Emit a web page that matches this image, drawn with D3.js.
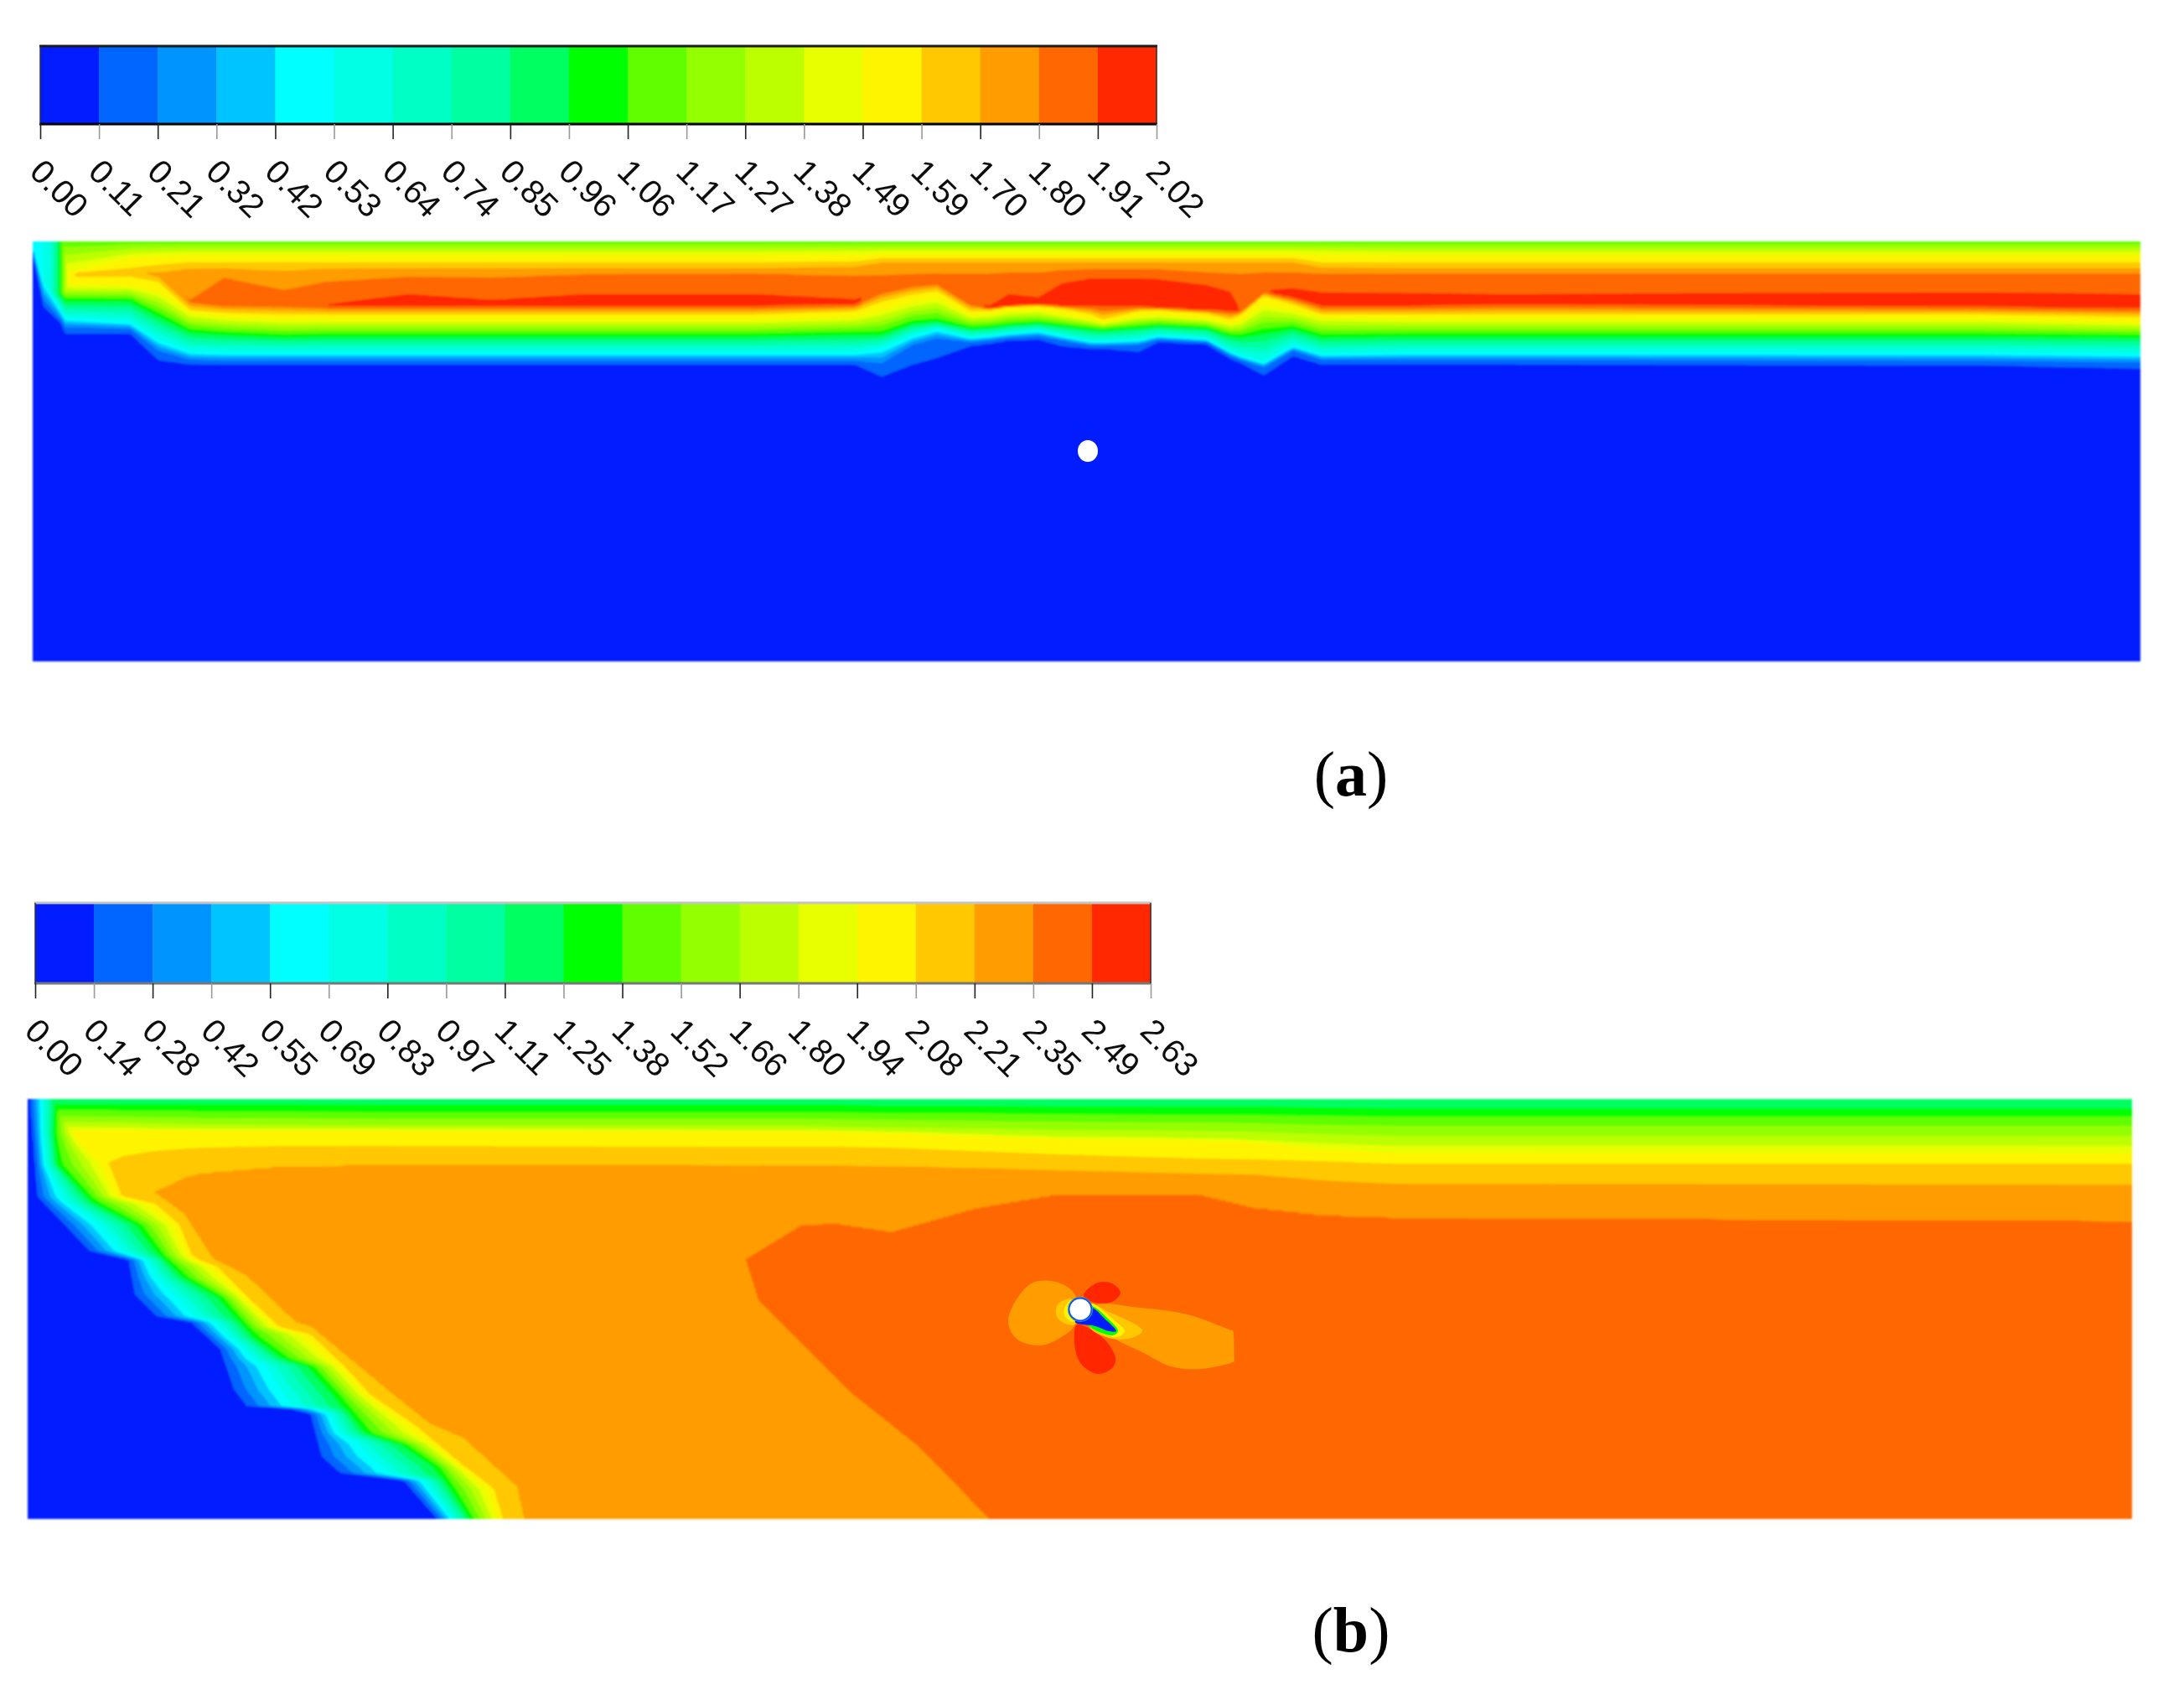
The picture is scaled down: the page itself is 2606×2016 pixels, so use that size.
<!DOCTYPE html>
<html><head><meta charset="utf-8">
<script src="https://cdn.jsdelivr.net/npm/d3@7"></script>
<style>html,body{margin:0;padding:0;background:#fff}svg{display:block}</style></head>
<body><svg id="c" width="2606" height="2016" xmlns="http://www.w3.org/2000/svg"></svg>
<script>
// ---- legends ----
const ticksA = ["0.00","0.11","0.21","0.32","0.42","0.53","0.64","0.74","0.85","0.96","1.06","1.17","1.27","1.38","1.49","1.59","1.70","1.80","1.91","2.02"];
const ticksB = ["0.00","0.14","0.28","0.42","0.55","0.69","0.83","0.97","1.11","1.25","1.38","1.52","1.66","1.80","1.94","2.08","2.21","2.35","2.49","2.63"];
const bandColors = ["#001cff","#0066ff","#0094ff","#00c4ff","#00ffff","#00ffe4","#00ffc4","#00ffa0","#00ff60","#00ff00","#60ff00","#94ff00","#bcff00","#e8ff00","#fff400","#ffc800","#ff9c00","#ff6800","#ff2800"];

// ---- panel (a): column readings. Depths of each velocity level at each station ----
const aX   = [0,13,33,39,116,150,188,228,300,351,449,547,661,861,981,1013,1050,1079,1119,1142,1165,1200,1228,1263,1277,1320,1343,1401,1429,1441,1469,1504,1538,1642,1761,2326,2515];
const aU149= [1,10,15,37,20,18,17,17,17,17,17,17,17,17,16,15,15,15,15,15,15,15,15,15,15,15,15,15,15,15,15,15,16,17,17,17,17];
const aU159= [2,20,30,38,32,28,25,25,25,25,25,25,25,25,24,20,20,20,20,20,20,20,20,20,20,20,20,20,20,20,20,20,25,25,25,25,25];
const aU170= [3,25,35,39,37,37,32,32,35,32,32,32,32,32,30,25,25,25,25,25,25,25,25,25,25,25,25,25,25,25,25,25,31,32,32,32,32];
const aU180= [3.5,27,36,39.5,37,39,70,43,58,48,42,43,39,38,41,40,39,38,38,38,37,37,34,33,33,33,33,37,38,38,37,37,38,38,38,38,38];
const aU191= [3.8,28,37,39.8,36,39,71,74,74,75,63,70,63,63,69,59,51,49,73,77,63,67,50,44,44,44,45,52,60,82,58,56,61,62,63,61,63];
const aPkD = [4,30,38,40,37,40,72,75,75,76,70,73,70,70,72,60,52,50,74,78,70,71,64,60,60,60,62,67,72,83,60,62,69,70,69,69,71];
const aPkV = [1.6,1.6,1.6,1.58,1.65,1.74,1.82,1.87,1.88,1.91,1.97,1.96,1.98,1.98,1.93,1.86,1.86,1.85,1.87,1.93,1.97,1.97,1.99,2.0,2.0,2.0,2.0,1.99,1.98,1.90,1.90,1.96,1.98,1.98,1.98,1.98,1.98];
const aL191= [4.2,31,39,41,38,41,73,76,76,77,77,77,77,77,75,61,53,51,75,80,77,75,77,77,78,78,79,82,83,84,60.5,67,77,77,75,78,80];
const aL159= [4.5,35,42,43,42,48,82,85,87,87,87,87,87,87,83,72,63,59,83,82,78,77,80,87,93,83,82,86,93,88,65,75,87,87,87,87,90];
const aL149= [5,40,52,52,53,60,85,90,93,93,93,93,93,93,90,82,72,67,88,87,83,82,87,93,97,89,88,92,98,95,75,82,90,92,92,92,97];
const aL100= [6,44,62,70,70,88,107,110,113,112,112,112,112,112,110,110,97,95,103,102,99,97,100,104,105,102,100,103,112,113,108,103,113,112,112,112,113];
const aL050= [7,48,82,92,97,118,132,133,133,133,133,133,133,133,133,128,113,105,115,113,110,107,113,120,120,118,113,117,132,137,145,125,135,133,133,133,135];
const aL021= [12,70,92,102,104,130,141,142,142,142,142,142,142,142,142,145,123,115,120,118,115,113,118,124,124,123,117,120,136,141,150,130,141,141,141,142,144];
const aL011= [15,78,97,110,110,142,147,147,147,147,147,147,147,147,147,162,148,140,125,122,118,117,125,128,128,132,120,123,140,145,160,137,147,147,147,148,152];
const aWallX=[0,21,33,39,45,60];
const aWallV=[0.42,0.6,1.0,1.3,1.6,2.1];
const aSurface = 1.1;
const aObstacle = {x:1259, d:250, r:12};

// ---- panel (b): along-channel readings of the near-surface layers ----
const bX    = [0,96,114,150,190,208,302,436,856,923,964,1031,1130,1230,1396,1463,1546,1629,2510];
const bD125 = [6,6,6,6,6,6,6,7,7,7,7,8,8,9,9,9,10,11,11];
const bD138 = [13,13,14,14,14,15,15,16,16,16,16,17,17,18,19,19,20,21,21];
const bD152 = [20,21,21,22,22,23,23,24,24,24,24,25,26,27,28,29,31,32,32];
const bD166 = [27,28,28,29,30,30,31,32,32,32,33,34,35,37,38,39,42,44,44];
const bD180 = [33,34,34,35,35,36,36,36,37,37,38,39,42,45,47,49,53,56,56];
const bD194 = [37,37,37,37,37,37,37,37,38,38,39,40,44,47,49,51,60,64,65];
const bD208 = [100,76,68,62,59,58,56,56,57,57,57,58,62,66,71,72,74,77,77];
const bD221 = [200,140,128,111,92,88,80,78,79,79,79,80,82,85,89,90,97,101,102];
const bD235 = [900,900,900,900,900,900,900,900,191,150,148,158,130,113,113,129,138,141,145];
const bSurface = 1.11;
// front curves: [x, depth] readings of the advancing air/water interface
const frontBlue = [[3,0],[12,116],[74,181],[121,192],[128,233],[154,259],[195,266],[230,298],[246,346],[262,367],[311,369],[338,376],[351,426],[373,446],[449,455],[489,501]];
const frontGreen= [[34,0],[32,40],[36,78],[79,123],[132,150],[159,185],[186,212],[230,236],[271,284],[306,309],[338,319],[369,353],[404,398],[449,412],[489,439],[529,501]];
const frontGold = [[50,0],[58,40],[72,56],[88,70],[96,76],[112,116],[152,125],[181,150],[195,185],[204,192],[226,200],[262,236],[300,272],[338,281],[378,319],[409,353],[462,389],[518,436],[556,465],[567,501]];
const frontOrange=[[85,0],[100,40],[125,76],[150,111],[186,137],[221,191],[262,212],[320,267],[338,272],[436,353],[480,388],[520,405],[583,462],[592,501]];
const frontDeep = [[856,191],[872,241],[980,349],[1063,415],[1147,501]];
// wake around the cylinder: closed outlines tagged with their velocity
const wakeLeft  = [[1250,234],[1230,219],[1200,219],[1180,239],[1170,266],[1180,286],[1207,294],[1230,286],[1250,269]];
const wakeRight = [[1274,247],[1327,249],[1384,257],[1437,276],[1438,276],[1440,312],[1440,313],[1400,322],[1364,319],[1330,302],[1297,286],[1284,276]];
const lobeTop   = [[1260,234],[1277,219],[1294,220],[1304,231],[1294,242],[1270,242]];
const lobeBottom= [[1252,269],[1249,292],[1257,316],[1277,328],[1295,320],[1298,309],[1287,289],[1267,274]];
const goldLeft  = [[1247,239],[1230,244],[1227,257],[1234,266],[1250,269]];
const goldRight = [[1267,246],[1290,254],[1330,276],[1320,284],[1294,286],[1267,272]];
const yellowLeft= [[1245,240],[1237,250],[1238,260],[1248,266]];
const yellowRight=[[1269,244],[1294,262],[1309,277],[1299,284],[1267,269]];
const greenWake = [[1268,247],[1290,263],[1301,277],[1294,282],[1264,268]];
const blueWake  = [[1269,249],[1285,262],[1299,277],[1290,277],[1274,271],[1250,266]];
const wakeValues= [2.3,2.3,2.6,2.6,2.15,2.15,2.0,2.0,1.3,0.05];
const bObstacle = {x:1256, d:251, ring:15, blue:14.2, r:12.5};

// ---- layout ----
const svg = d3.select("#c");
const W=2606,H=2016;
svg.append("rect").attr("width",W).attr("height",H).attr("fill","#fff");
const defs=svg.append("defs");
defs.append("filter").attr("id","soft").attr("filterUnits","userSpaceOnUse").attr("x",0).attr("y",0).attr("width",W).attr("height",H)
  .append("feGaussianBlur").attr("stdDeviation",1.3);
defs.append("filter").attr("id","softText").attr("filterUnits","userSpaceOnUse").attr("x",0).attr("y",0).attr("width",W).attr("height",H)
  .append("feGaussianBlur").attr("stdDeviation",0.7);

function legend(labels, x0, x1, top, bot, tickEnd, topStroke, botStroke){
  const g = svg.append("g");
  const sx = d3.scalePoint().domain(labels).range([x0,x1]);
  bandColors.forEach((c,i)=>{
    const a=sx(labels[i]), b=sx(labels[i+1]);
    g.append("rect").attr("x",a).attr("y",top).attr("width",b-a+0.5).attr("height",bot-top).attr("fill",c);
  });
  g.append("line").attr("x1",x0-1).attr("x2",x1+1).attr("y1",top).attr("y2",top).attr("stroke",topStroke).attr("stroke-width",3);
  g.append("line").attr("x1",x0-1).attr("x2",x1+1).attr("y1",bot).attr("y2",bot).attr("stroke",botStroke).attr("stroke-width",3);
  g.append("line").attr("x1",x0).attr("x2",x0).attr("y1",top).attr("y2",bot).attr("stroke","#333").attr("stroke-width",1.5);
  g.append("line").attr("x1",x1).attr("x2",x1).attr("y1",top).attr("y2",bot).attr("stroke","#333").attr("stroke-width",1.5);
  const ax = d3.axisBottom(sx).tickSize(tickEnd-bot).tickPadding(0);
  const axg = g.append("g").attr("transform",`translate(0,${bot})`).call(ax);
  axg.select(".domain").remove();
  axg.attr("filter","url(#softText)");
  axg.selectAll(".tick line").attr("stroke",(d,i)=>i%2?"#999":"#222").attr("stroke-width",1.6);
  axg.selectAll(".tick text")
    .attr("font-family","'Liberation Sans',Arial,sans-serif").attr("font-size",40).attr("fill","#111")
    .attr("text-anchor","start").attr("dy",0).attr("y",0)
    .attr("transform",`translate(-15,${tickEnd-bot+41}) rotate(45)`);
}
legend(ticksA,48,1380,55,148,166,"#1a1a1a","#000");
legend(ticksB,42,1373,1077,1173,1191,"#c4c4c4","#777");

function contourField(px0,py0,w,h,domX,domD,ticks,fieldFn){
  const step=2, nx=Math.round(w/step), ny=Math.round(h/step);
  const values = fieldFn(nx,ny,domX,domD);
  const gx = d3.scaleLinear().domain([0,nx]).range([px0,px0+w]);
  const gy = d3.scaleLinear().domain([0,ny]).range([py0,py0+h]);
  const path = d3.geoPath(d3.geoTransform({point(x,y){this.stream.point(gx(x),gy(y));}}));
  const th = ticks.slice(1,19).map(Number);
  const cs = d3.contours().size([nx,ny]).smooth(true).thresholds(th)(values);
  const g = svg.append("g").attr("filter","url(#soft)");
  g.append("rect").attr("x",px0).attr("y",py0).attr("width",w).attr("height",h).attr("fill",bandColors[0]);
  g.selectAll("path").data(cs).join("path").attr("d",path).attr("fill",(d,i)=>bandColors[i+1]);
  return g;
}
const curve = (xs,ys)=>d3.scaleLinear().domain(xs).range(ys).clamp(true);

// panel (a)
const aPx=39,aPy=288,aW=2515,aH=501;
const upCurves=[[1.49,aU149],[1.59,aU159],[1.70,aU170],[1.80,aU180],[1.91,aU191]].map(([v,a])=>[v,curve(aX,a)]);
const loCurves=[[1.91,aL191],[1.59,aL159],[1.49,aL149],[1.00,aL100],[0.50,aL050],[0.21,aL021],[0.106,aL011]].map(([v,a])=>[v,curve(aX,a)]);
const pkD=curve(aX,aPkD), pkV=curve(aX,aPkV), wall=curve(aWallX,aWallV);
const sxA=d3.scaleLinear().domain([0,2515]).range([aPx,aPx+aW]);
const syA=d3.scaleLinear().domain([0,501]).range([aPy,aPy+aH]);
contourField(aPx,aPy,aW,aH,[0,2515],[0,501],ticksA,(nx,ny,dx,dd)=>{
  const vals=new Float64Array(nx*ny);
  for(let i=0;i<nx;i++){
    const x=(i+0.5)/nx*dx[1], pv=pkV(x), pd=pkD(x), cap=wall(x);
    const pts=[[0,aSurface]];
    upCurves.forEach(([v,c])=>{ if(v<pv) pts.push([c(x),v]); });
    pts.push([pd,pv]);
    loCurves.forEach(([v,c])=>{ if(v<pv) pts.push([c(x),v]); });
    const last=loCurves[6][1](x);
    pts.push([last+12,0.03],[700,0]);
    const clean=[pts[0]];
    pts.forEach(p=>{ if(p[0]>clean[clean.length-1][0]) clean.push(p); });
    const s=d3.scaleLinear().domain(clean.map(p=>p[0])).range(clean.map(p=>p[1]));
    for(let j=0;j<ny;j++){ vals[j*nx+i]=Math.min(cap,s((j+0.5)/ny*dd[1])); }
  }
  return vals;
});
svg.append("ellipse").attr("cx",sxA(aObstacle.x)).attr("cy",syA(aObstacle.d)).attr("rx",aObstacle.r).attr("ry",aObstacle.r+1).attr("fill","#fff");

// panel (b)
const bPx=33,bPy=1311,bW=2511,bH=501;
const colLevels=[[1.25,bD125],[1.38,bD138],[1.52,bD152],[1.66,bD166],[1.80,bD180],[1.94,bD194],[2.08,bD208],[2.21,bD221],[2.35,bD235]].map(([v,a])=>[v,curve(bX,a)]);
const front=a=>curve(a.map(p=>p[1]),a.map(p=>p[0]));
const fBlue=front(frontBlue),fGreen=front(frontGreen),fGold=front(frontGold),fOrange=front(frontOrange),fDeep=front(frontDeep);
const sxB=d3.scaleLinear().domain([0,2511]).range([bPx,bPx+bW]);
const syB=d3.scaleLinear().domain([0,501]).range([bPy,bPy+bH]);
contourField(bPx,bPy,bW,bH,[0,2511],[0,501],ticksB,(nx,ny,dx,dd)=>{
  const vals=new Float64Array(nx*ny);
  const cols=[];
  for(let i=0;i<nx;i++){
    const x=(i+0.5)/nx*dx[1];
    const pts=[[0,bSurface]];
    colLevels.forEach(([v,c])=>{ const d=c(x); if(d>pts[pts.length-1][0]) pts.push([d,v]); });
    pts.push([1200,2.44]);
    cols.push(d3.scaleLinear().domain(pts.map(p=>p[0])).range(pts.map(p=>p[1])));
  }
  for(let j=0;j<ny;j++){
    const d=(j+0.5)/ny*dd[1];
    const seq=[fBlue(d),fGreen(d),fGold(d),fOrange(d),fDeep(d)];
    const lv=[0.14,1.30,2.08,2.21,2.35];
    const xs=[seq[0]-14],vs=[0.04];
    seq.forEach((q,k)=>{ if(q>xs[xs.length-1]){xs.push(q);vs.push(lv[k]);} });
    xs.push(4000);vs.push(2.44);
    const s=d3.scaleLinear().domain(xs).range(vs);
    for(let i=0;i<nx;i++){
      const x=(i+0.5)/nx*dx[1];
      vals[j*nx+i]=Math.min(s(x),cols[i](d));
    }
  }
  return vals;
});
const bandOf=d3.scaleThreshold().domain(ticksB.slice(1,19).map(Number)).range(bandColors);
const outline=d3.line().x(p=>sxB(p[0])).y(p=>syB(p[1])).curve(d3.curveCatmullRomClosed.alpha(0.5));
const wakeG=svg.append("g").attr("filter","url(#softText)");
[wakeLeft,wakeRight,lobeTop,lobeBottom,goldLeft,goldRight,yellowLeft,yellowRight,greenWake,blueWake].forEach((s,i)=>{
  wakeG.append("path").attr("d",outline(s)).attr("fill",bandOf(wakeValues[i]));
});
wakeG.append("circle").attr("cx",sxB(bObstacle.x)).attr("cy",syB(bObstacle.d)).attr("r",bObstacle.ring).attr("fill","#3aa0a0");
wakeG.append("circle").attr("cx",sxB(bObstacle.x)).attr("cy",syB(bObstacle.d)).attr("r",bObstacle.blue).attr("fill","#0a50ff");
wakeG.append("circle").attr("cx",sxB(bObstacle.x)).attr("cy",syB(bObstacle.d)).attr("r",bObstacle.r).attr("fill","#fff");

// captions
[["a",1612,949],["b",1612,1970]].forEach(([t,x,y])=>{
  const tx=svg.append("text").attr("x",x).attr("y",y).attr("text-anchor","middle")
    .attr("font-family","'Liberation Serif',serif").attr("font-size",76).attr("fill","#000");
  tx.append("tspan").text("(");
  tx.append("tspan").attr("font-weight","bold").text(t);
  tx.append("tspan").text(")");
});
</script></body></html>
